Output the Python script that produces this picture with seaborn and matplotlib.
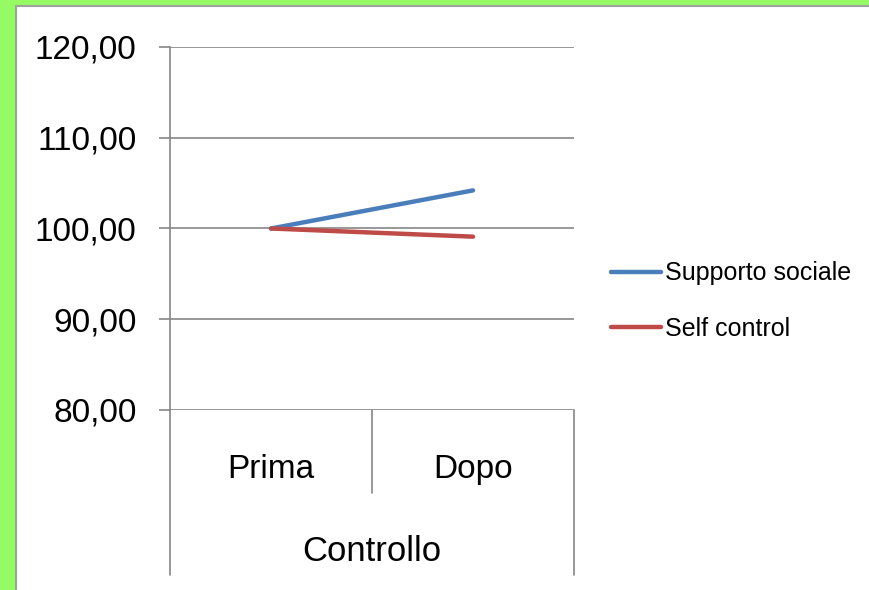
import matplotlib
matplotlib.use("Agg")
import matplotlib.pyplot as plt
import matplotlib.ticker as mticker
import matplotlib.transforms as mtransforms
from matplotlib.patches import Rectangle
from matplotlib.lines import Line2D
import pandas as pd
import seaborn as sns

# data
fasi = ["Prima", "Dopo"]
supporto_sociale = [100.0, 104.2]
self_control = [100.0, 99.1]
serie = ["Supporto sociale", "Self control"]
colori = ["#4A7EBB", "#BE4B48"]
gruppo = "Controllo"
y_ticks = [80, 90, 100, 110, 120]

sns.set_style("white")
plt.rcParams["font.family"] = ["Liberation Sans", "DejaVu Sans"]
plt.rcParams["text.color"] = "black"
plt.rcParams["axes.labelcolor"] = "black"
plt.rcParams["xtick.labelcolor"] = "black"
plt.rcParams["ytick.labelcolor"] = "black"

df = pd.DataFrame({
    "fase": fasi * 2,
    "valore": supporto_sociale + self_control,
    "serie": [serie[0]] * 2 + [serie[1]] * 2,
})

fig = plt.figure(figsize=(8.7, 5.9), dpi=100)
fig.patch.set_facecolor("#96FA64")
# white slide area with a thin grey edge on left/top
W, H = 870, 590
fig.patches.append(Rectangle((16 / W, 0), 1, 1 - 6 / H, transform=fig.transFigure,
                             facecolor="white", edgecolor="none", zorder=-2))
fig.lines.append(Line2D([16 / W, 16 / W], [0, 1 - 6 / H], transform=fig.transFigure,
                        color="#A0A0A0", lw=1.5, zorder=-1))
fig.lines.append(Line2D([16 / W, 1], [1 - 6 / H, 1 - 6 / H], transform=fig.transFigure,
                        color="#A0A0A0", lw=1.5, zorder=-1))

ax = fig.add_axes([170 / W, 1 - 410 / H, 404 / W, 363 / H])
ax.set_facecolor("none")

sns.lineplot(data=df, x="fase", y="valore", hue="serie", palette=colori,
             linewidth=3.2, ax=ax, legend=True)

ax.set_ylim(80, 120)
ax.set_xlim(-0.5, 1.5)
ax.set_yticks(y_ticks)
ax.yaxis.set_major_formatter(mticker.FuncFormatter(lambda v, p: f"{v:.2f}".replace(".", ",")))
ax.grid(axis="y", color="#868686", lw=1.2)
ax.set_axisbelow(True)
for s in ["top", "right", "bottom"]:
    ax.spines[s].set_visible(False)
ax.spines["left"].set_color("#868686")
ax.spines["left"].set_linewidth(1.2)
ax.tick_params(axis="y", length=8, width=1.2, color="#868686", pad=16, labelsize=24, direction="out")
ax.yaxis.set_ticks_position("left")
ax.tick_params(axis="x", length=0, pad=32, labelsize=24)
ax.set_xticks(range(len(fasi)))
ax.set_xticklabels(fasi)
ax.set_xlabel(gruppo, fontsize=25, labelpad=36)
ax.set_ylabel("")

# category axis divider lines below the plot (Excel multi-level axis look)
tr = mtransforms.blended_transform_factory(ax.transData, ax.transAxes)
for x, y0 in [(-0.5, -0.455), (0.5, -0.229), (1.5, -0.455)]:
    ax.plot([x, x], [0, y0], transform=tr, color="#868686", lw=1.2, clip_on=False)

ax.legend(handles=ax.get_legend().legend_handles, labels=serie,
          loc="center left", bbox_to_anchor=(611 / W, 1 - 301 / H),
          bbox_transform=fig.transFigure, frameon=False, fontsize=18,
          handlelength=2.0, handletextpad=0.15, labelspacing=1.25,
          borderpad=0, borderaxespad=0)

fig.savefig("out.png", dpi=100)
